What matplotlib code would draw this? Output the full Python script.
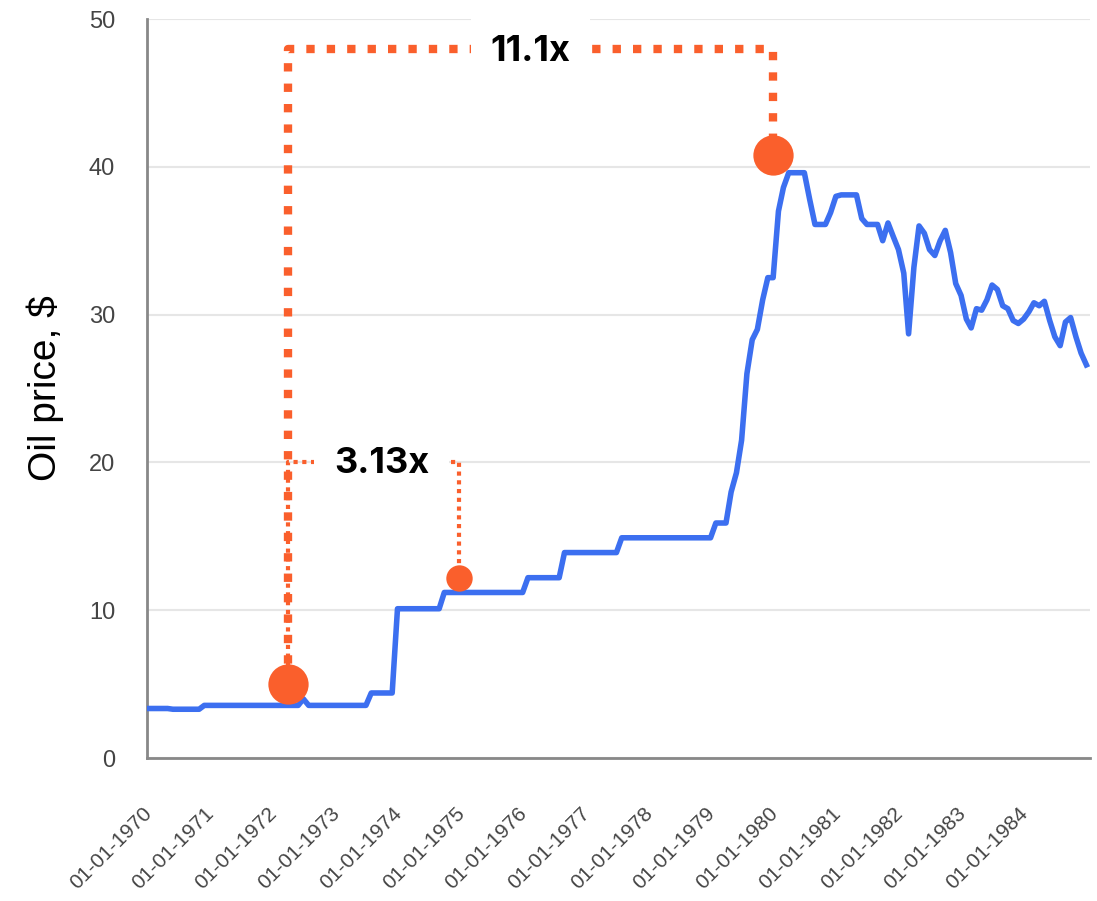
import numpy as np
import pandas as pd
import matplotlib
matplotlib.use("Agg")
import matplotlib.pyplot as plt
import matplotlib.dates as mdates
import matplotlib.transforms as mtransforms

# precio mensual del petróleo, ene-1970 .. ene-1985
prices = [
    3.35, 3.35, 3.35, 3.35, 3.35, 3.30, 3.30, 3.30, 3.30, 3.30, 3.30, 3.56,
    3.56, 3.56, 3.56, 3.56, 3.56, 3.56, 3.56, 3.56, 3.56, 3.56, 3.56, 3.56,
    3.56, 3.56, 3.56, 3.56, 3.56, 3.56, 4.00, 3.56, 3.56, 3.56, 3.56, 3.56,
    3.56, 3.56, 3.56, 3.56, 3.56, 3.56, 3.56, 4.40, 4.40, 4.40, 4.40, 4.40,
    10.1, 10.1, 10.1, 10.1, 10.1, 10.1, 10.1, 10.1, 10.1, 11.2, 11.2, 11.2,
    11.2, 11.2, 11.2, 11.2, 11.2, 11.2, 11.2, 11.2, 11.2, 11.2, 11.2, 11.2,
    11.2, 12.2, 12.2, 12.2, 12.2, 12.2, 12.2, 12.2, 13.9, 13.9, 13.9, 13.9,
    13.9, 13.9, 13.9, 13.9, 13.9, 13.9, 13.9, 14.9, 14.9, 14.9, 14.9, 14.9,
    14.9, 14.9, 14.9, 14.9, 14.9, 14.9, 14.9, 14.9, 14.9, 14.9, 14.9, 14.9,
    14.9, 15.9, 15.9, 15.9, 18.0, 19.3, 21.5, 26.0, 28.3, 29.0, 31.0, 32.5,
    32.5, 37.0, 38.6, 39.6, 39.6, 39.6, 39.6, 37.8, 36.1, 36.1, 36.1, 36.9,
    38.0, 38.1, 38.1, 38.1, 38.1, 36.5, 36.1, 36.1, 36.1, 35.0, 36.2, 35.3,
    34.4, 32.8, 28.7, 33.2, 36.0, 35.5, 34.4, 34.0, 35.0, 35.7, 34.2, 32.1,
    31.3, 29.7, 29.1, 30.4, 30.3, 31.0, 32.0, 31.7, 30.6, 30.4, 29.6, 29.4,
    29.7, 30.2, 30.8, 30.6, 30.9, 29.6, 28.5, 27.9, 29.5, 29.8, 28.5, 27.4,
    26.6,
]
dates = pd.date_range("1970-01-01", periods=len(prices), freq="MS")
tick_years = list(range(1970, 1985))

# puntos destacados y sus etiquetas
hl_dates = pd.to_datetime(["1972-04-01", "1974-12-25", "1980-01-01"])
hl_values = [5.0, 12.2, 40.8]
hl_sizes = [29, 19, 29]
big_label = "11.1x"
small_label = "3.13x"

blue = "#3C6FF0"
orange = "#FA5F2C"

fig = plt.figure(figsize=(10.97, 9.01), dpi=100)
ax = fig.add_axes([0.134, 0.1587, 0.8596, 0.8202])

ax.plot(dates, prices, color=blue, lw=4, zorder=3)

# corchete grande (11.1x)
ax.plot([hl_dates[0], hl_dates[0], hl_dates[2], hl_dates[2]],
        [hl_values[0], 48.0, 48.0, hl_values[2]],
        color=orange, lw=6, linestyle=(0, (1, 1.45)), dash_capstyle="butt", zorder=4)
# corchete pequeño (3.13x)
ax.plot([hl_dates[0], hl_dates[0], hl_dates[1], hl_dates[1]],
        [hl_values[0], 20.0, 20.0, hl_values[1]],
        color=orange, lw=3, linestyle=(0, (1, 1.1)), dash_capstyle="butt", zorder=4)

for d, v, s in zip(hl_dates, hl_values, hl_sizes):
    ax.plot([d], [v], "o", color=orange, markersize=s, markeredgewidth=0, zorder=5)

box = dict(boxstyle="square,pad=0.55", fc="white", ec="none")
ax.text(pd.Timestamp("1976-02-15"), 47.8, big_label, ha="center", va="center",
        fontsize=26, fontweight="bold", family="Inter", bbox=box, zorder=6, clip_on=False)
ax.text(pd.Timestamp("1973-10-01"), 19.9, small_label, ha="center", va="center",
        fontsize=26, fontweight="bold", family="Inter", bbox=box, zorder=6)

ax.set_ylim(0, 50)
ax.set_xlim(pd.Timestamp("1970-01-01"), pd.Timestamp("1985-01-22"))
ax.set_yticks([0, 10, 20, 30, 40, 50])
ax.set_xticks([pd.Timestamp(f"{y}-01-01") for y in tick_years])
ax.xaxis.set_major_formatter(mdates.DateFormatter("%d-%m-%Y"))

ax.grid(axis="y", color="#e6e6e6", lw=1.5)
ax.set_axisbelow(True)
for s in ["top", "right"]:
    ax.spines[s].set_visible(False)
for s in ["left", "bottom"]:
    ax.spines[s].set_color("#888888")
    ax.spines[s].set_linewidth(2)

ax.tick_params(axis="both", length=0, labelcolor="#444444")
ax.tick_params(axis="y", pad=23, labelsize=17)
ax.tick_params(axis="x", pad=33, labelsize=15)
for lab in ax.get_yticklabels() + ax.get_xticklabels():
    lab.set_family("Liberation Sans")
shift = mtransforms.ScaledTranslation(6 / 72, 0, fig.dpi_scale_trans)
for lab in ax.get_xticklabels():
    lab.set_rotation(45)
    lab.set_ha("right")
    lab.set_transform(lab.get_transform() + shift)

ax.set_ylabel("Oil price, $", fontsize=28, family="Liberation Sans", labelpad=18)

fig.savefig("out.png", dpi=100)
